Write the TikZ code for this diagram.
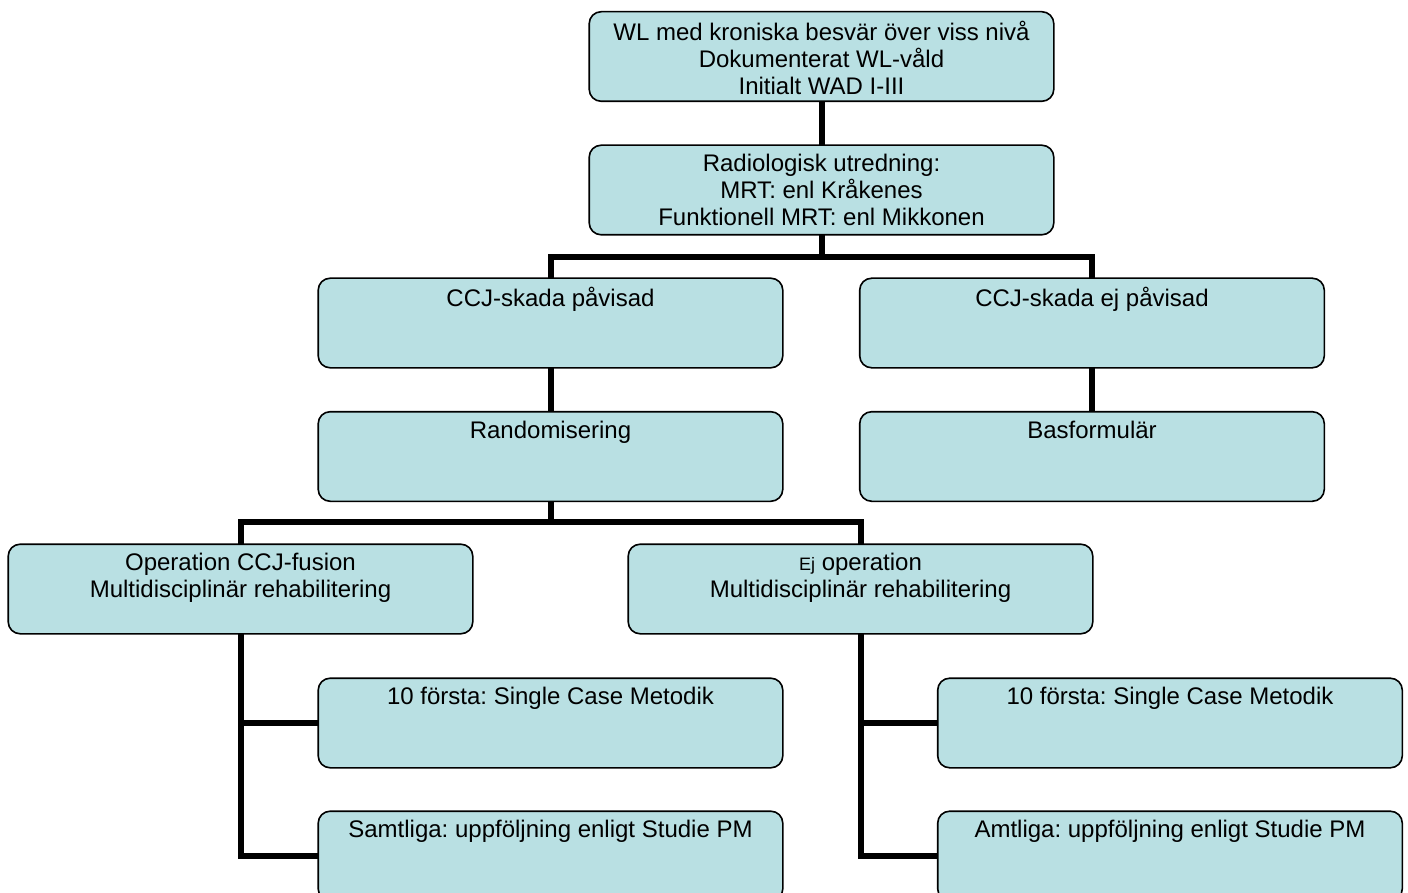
\documentclass[tikz,border=0pt]{standalone}
\usepackage{fontspec}
\setmainfont{Liberation Sans}
\frenchspacing
\definecolor{boxfill}{RGB}{185,224,227}
\begin{document}
\begin{tikzpicture}[x=1pt,y=-1pt,
  box/.style={draw=black, line width=1.6pt, fill=boxfill, rounded corners=12pt,
    minimum width=463pt, minimum height=88pt, inner sep=0pt},
  boxtext/.style={anchor=north, yshift=-7pt, inner sep=2pt, align=center,
    font=\fontsize{24}{27}\selectfont},
  link/.style={line width=6pt, line join=miter}]
\useasboundingbox (0,0) rectangle (1408,893);
\clip (0,0) rectangle (1408,893);
\coordinate (j1) at (821.5,257);
\coordinate (j2) at (550.5,522);
\node[box] (top) at (821.5,56.5) {};
\node[box] (radio) at (821.5,190) {};
\node[box] (ccjp) at (550.5,323) {};
\node[box] (ccje) at (1092,323) {};
\node[box] (rand) at (550.5,456.5) {};
\node[box] (bas) at (1092,456.5) {};
\node[box] (op) at (240.5,589) {};
\node[box] (ejop) at (860.5,589) {};
\node[box] (s1) at (550.5,723) {};
\node[box] (s2) at (550.5,856) {};
\node[box] (r1) at (1170,723) {};
\node[box] (r2) at (1170,856) {};
\draw[link] (top.south) -- (radio.north);
\draw[link] (radio.south) -- (j1);
\draw[link] (ccjp.north) |- (j1) -| (ccje.north);
\draw[link] (ccjp.south) -- (rand.north);
\draw[link] (ccje.south) -- (bas.north);
\draw[link] (rand.south) -- (j2);
\draw[link] (op.north) |- (j2) -| (ejop.north);
\draw[link] (op.south) |- (s1.west);
\draw[link] (op.south) |- (s2.west);
\draw[link] (ejop.south) |- (r1.west);
\draw[link] (ejop.south) |- (r2.west);
% redraw box outlines over connector ends
\foreach \n in {top,radio,ccjp,ccje,rand,bas,op,ejop,s1,s2,r1,r2}{
  \draw[line width=1.6pt, rounded corners=12pt, fill=boxfill] (\n.north west) rectangle (\n.south east);
}
\node[boxtext] (ttop) at (top.north) {WL med kroniska besvär över viss nivå\\Dokumenterat WL-våld\\Initialt WAD I-III};
\node[boxtext] (tradio) at (radio.north) {Radiologisk utredning:\\MRT: enl Kråkenes\\Funktionell MRT: enl Mikkonen};
\node[boxtext] (tccjp) at (ccjp.north) {CCJ-skada påvisad};
\node[boxtext] (tccje) at (ccje.north) {CCJ-skada ej påvisad};
\node[boxtext] (trand) at (rand.north) {Randomisering};
\node[boxtext] (tbas) at (bas.north) {Basformulär};
\node[boxtext] (top2) at (op.north) {Operation CCJ-fusion\\Multidisciplinär rehabilitering};
\node[boxtext] (tejop) at (ejop.north) {{\fontsize{18}{27}\selectfont Ej} operation\\Multidisciplinär rehabilitering};
\node[boxtext] (ts1) at (s1.north) {10 första: Single Case Metodik};
\node[boxtext] (ts2) at (s2.north) {Samtliga: uppföljning enligt Studie PM};
\node[boxtext] (tr1) at (r1.north) {10 första: Single Case Metodik};
\node[boxtext] (tr2) at (r2.north) {Amtliga: uppföljning enligt Studie PM};
\end{tikzpicture}
\end{document}
